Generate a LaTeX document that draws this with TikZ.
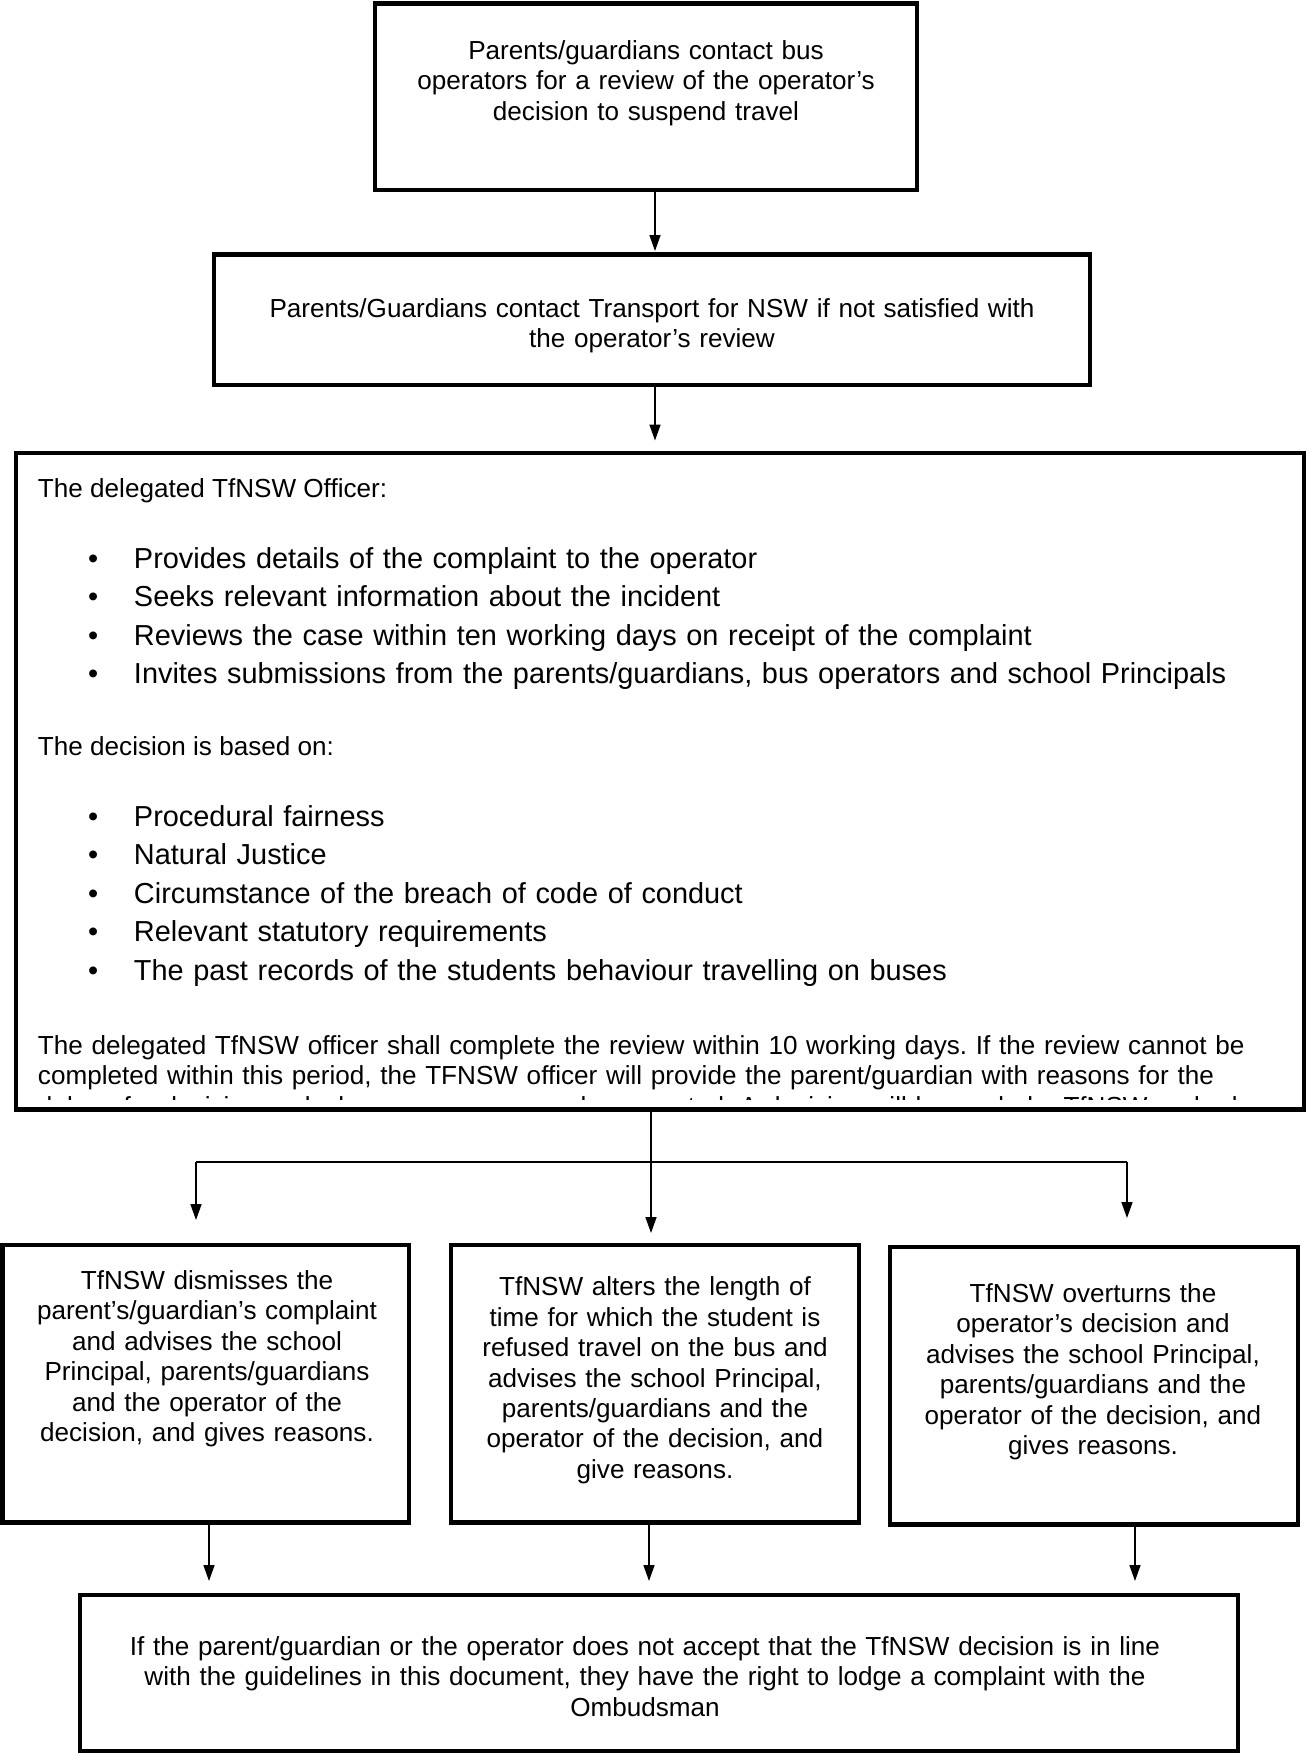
\documentclass[tikz,border=0pt]{standalone}
\usepackage{fontspec}
\setmainfont{Liberation Sans}
\usetikzlibrary{arrows.meta}
\setlength{\parindent}{0pt}
\frenchspacing
\begin{document}
\begin{tikzpicture}[x=0.5pt,y=-0.5pt,
  box/.style={draw, line width=2.4pt, inner sep=0pt, outer sep=0pt},
  conn/.style={line width=0.8pt, -{Triangle[length=8pt,width=5.5pt]}},
  plain/.style={line width=0.8pt},
  txt/.style={inner sep=0pt, outer sep=0pt, align=center, font=\fontsize{13.05}{15.2}\selectfont},
  ltxt/.style={inner sep=0pt, outer sep=0pt, align=left, font=\fontsize{13.05}{15.2}\selectfont},
  blist/.style={inner sep=0pt, outer sep=0pt, align=left, font=\fontsize{14.45}{19.2}\selectfont, text width=600pt, anchor=north west}]
\fill[white] (0,0) rectangle (1309,1753);
\useasboundingbox (0,0) rectangle (1309,1753);

% boxes
\node[box, minimum width=271pt, minimum height=93.25pt] (A) at (646,96.75) {};
\node[box, minimum width=438pt, minimum height=65.25pt] (B) at (652,319.75) {};
\node[box, minimum width=644pt, minimum height=328.25pt] (C) at (660,781.25) {};
\node[box, minimum width=203.25pt, minimum height=138.75pt] (D1) at (205.75,1383.75) {};
\node[box, minimum width=204pt, minimum height=138.75pt] (D2) at (655,1383.75) {};
\node[box, minimum width=204pt, minimum height=138.75pt] (D3) at (1094,1385.75) {};
\node[box, minimum width=579pt, minimum height=78pt] (E) at (659,1673) {};

% texts
\node[txt, text width=265pt, anchor=north] (tA) at (646,38.2)
  {\strut Parents/guardians contact bus\\operators for a review of the operator’s\\decision to suspend travel};
\node[txt, text width=430pt, anchor=north] (tB) at (652,296.2)
  {\strut Parents/Guardians contact Transport for NSW if not satisfied with\\the operator’s review};

\node[ltxt, anchor=base west] (tC1) at (38,497.5) {The delegated TfNSW Officer:};
\node[blist] (L1) at (88,541.6)
  {\strut\makebox[23pt][l]{•}Provides details of the complaint to the operator\\
   \makebox[23pt][l]{•}Seeks relevant information about the incident\\
   \makebox[23pt][l]{•}Reviews the case within ten working days on receipt of the complaint\\
   \makebox[23pt][l]{•}Invites submissions from the parents/guardians, bus operators and school Principals};
\node[ltxt, anchor=base west] (tC2) at (38,755) {The decision is based on:};
\node[blist] (L2) at (88,799.6)
  {\strut\makebox[23pt][l]{•}Procedural fairness\\
   \makebox[23pt][l]{•}Natural Justice\\
   \makebox[23pt][l]{•}Circumstance of the breach of code of conduct\\
   \makebox[23pt][l]{•}Relevant statutory requirements\\
   \makebox[23pt][l]{•}The past records of the students behaviour travelling on buses};
\begin{scope}
  \clip (20,460) rectangle (1300,1099);
  \node[ltxt, text width=630pt, anchor=north west] (tC3) at (38,1033.2)
    {\strut The delegated TfNSW officer shall complete the review within 10 working days. If the review cannot be\\
     completed within this period, the TFNSW officer will provide the parent/guardian with reasons for the\\
     delay of a decision and when a response can be expected. A decision will be made by TfNSW and advised.};
\end{scope}

\node[txt, text width=200pt, anchor=north] (tD1) at (207,1268.2)
  {\strut TfNSW dismisses the\\parent’s/guardian’s complaint\\and advises the school\\Principal, parents/guardians\\and the operator of the\\decision, and gives reasons.};
\node[txt, text width=200pt, anchor=north] (tD2) at (655,1274.5)
  {\strut TfNSW alters the length of\\time for which the student is\\refused travel on the bus and\\advises the school Principal,\\parents/guardians and the\\operator of the decision, and\\give reasons.};
\node[txt, text width=200pt, anchor=north] (tD3) at (1093,1281.2)
  {\strut TfNSW overturns the\\operator’s decision and\\advises the school Principal,\\parents/guardians and the\\operator of the decision, and\\gives reasons.};
\node[txt, text width=570pt, anchor=north] (tE) at (645,1634.2)
  {\strut If the parent/guardian or the operator does not accept that the TfNSW decision is in line\\with the guidelines in this document, they have the right to lodge a complaint with the\\Ombudsman};

% connector guides
\coordinate (x1) at (655,0);
\coordinate (x2) at (651,0);
\coordinate (fL) at (196,1162);
\coordinate (fR) at (1127,1162);
\coordinate (xe1) at (209,0);
\coordinate (xe2) at (649,0);
\coordinate (xe3) at (1135,0);

\draw[conn, shorten >=1.75pt] (A.south -| x1) -- (B.north -| x1);
\draw[conn, shorten >=6.25pt] (B.south -| x1) -- (C.north -| x1);
\draw[conn, shorten >=6pt] (C.south -| x2) -- (D2.north -| x2);
\draw[plain] (fL) -- (fR);
\draw[conn, shorten >=12.5pt] (fL) -- (fL |- D1.north);
\draw[conn, shorten >=14.5pt] (fR) -- (fR |- D3.north);
\draw[conn, shorten >=7pt] (D1.south -| xe1) -- (E.north -| xe1);
\draw[conn, shorten >=7pt] (D2.south -| xe2) -- (E.north -| xe2);
\draw[conn, shorten >=7pt] (D3.south -| xe3) -- (E.north -| xe3);
\end{tikzpicture}
\end{document}
